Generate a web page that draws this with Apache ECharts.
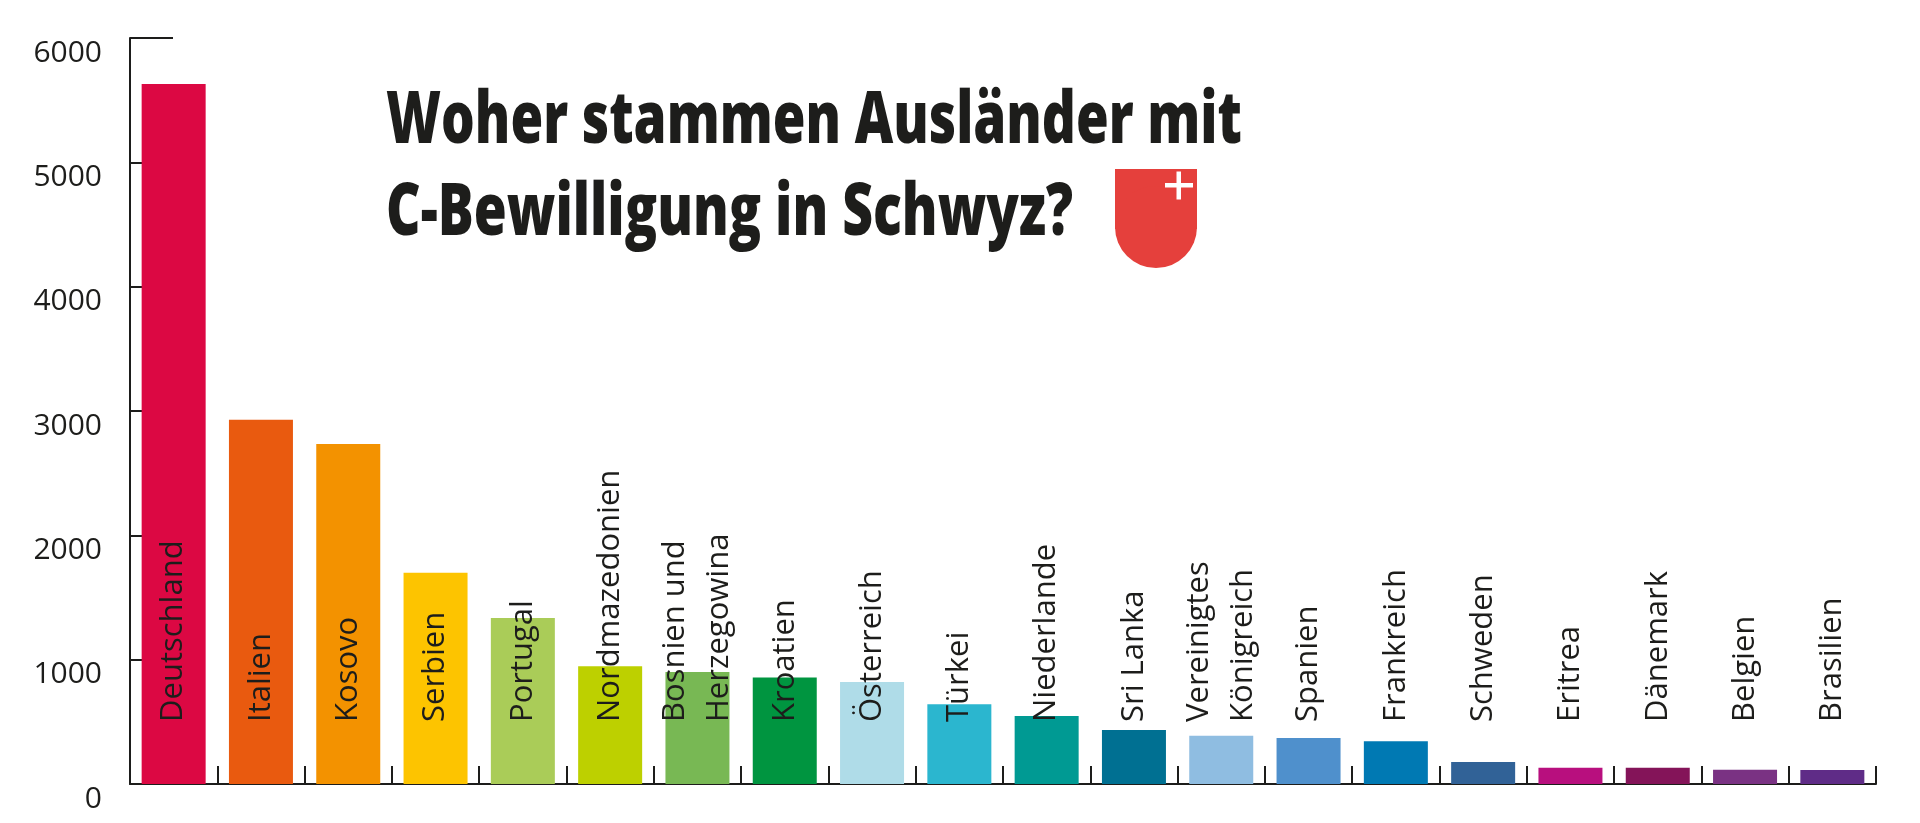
<!DOCTYPE html>
<html>
<head>
<meta charset="utf-8">
<title>Woher stammen Ausländer mit C-Bewilligung in Schwyz?</title>
<script src="https://cdn.jsdelivr.net/npm/echarts@6/dist/echarts.min.js"></script>
<style>
    html, body { margin: 0; padding: 0; background: #fff; }
    #chart { width: 1920px; height: 823px; }
</style>
</head>
<body>
<div id="chart"></div>
<script>
// Herkunftsländer, sortiert nach Anzahl
var countries = [
    'Deutschland', 'Italien', 'Kosovo', 'Serbien', 'Portugal',
    'Nordmazedonien', 'Bosnien und\nHerzegowina', 'Kroatien', 'Österreich', 'Türkei',
    'Niederlande', 'Sri Lanka', 'Vereinigtes\nKönigreich', 'Spanien', 'Frankreich',
    'Schweden', 'Eritrea', 'Dänemark', 'Belgien', 'Brasilien'
];

// Personen mit C-Bewilligung
var persons = [
    5630, 2930, 2735, 1700, 1335,
    947, 900, 857, 820, 642,
    546, 434, 389, 370, 343,
    177, 131, 131, 115, 112
];

var barColors = [
    '#dc0843', '#e95a0f', '#f39200', '#fdc400', '#aacc58',
    '#bdd000', '#78b854', '#009540', '#afdce8', '#2bb6cf',
    '#009a93', '#007092', '#8fbde1', '#4f90cc', '#0079b3',
    '#316297', '#b80f7e', '#841459', '#7a3283', '#5f2c87'
];

var yTicks = [0, 1000, 2000, 3000, 4000, 5000, 6000];

var titleLines = ['Woher stammen Ausländer mit', 'C-Bewilligung in Schwyz?'];

var INK = '#1d1d1b';
var TITLE_FONT = '800 73px "Open Sans"';

/**
 * Horizontal squeeze so the bold title looks condensed like the original.
 * @param {string} text
 * @param {number} targetWidth
 * @returns {number}
 */
function condenseFactor(text, targetWidth) {
    var ctx = document.createElement('canvas').getContext('2d');
    ctx.font = TITLE_FONT;
    var w = ctx.measureText(text).width;
    return w ? targetWidth / w : 1;
}

var chart = echarts.init(document.getElementById('chart'), null, { renderer: 'canvas' });

chart.setOption({
    animation: false,
    backgroundColor: '#fff',
    grid: { left: 130, right: 44, top: 38, bottom: 39, containLabel: false },
    xAxis: {
        type: 'category',
        data: countries,
        axisLine: { lineStyle: { color: INK, width: 2 } },
        axisTick: { show: true, inside: true, length: 18, interval: 0, lineStyle: { color: INK, width: 2 } },
        axisLabel: { show: false },
        splitLine: { show: false }
    },
    yAxis: [
        {
            type: 'value',
            min: yTicks[0],
            max: yTicks[yTicks.length - 1],
            interval: 1000,
            axisLine: { show: true, lineStyle: { color: INK, width: 2 } },
            axisTick: { show: true, inside: true, length: 12, lineStyle: { color: INK, width: 2 } },
            splitLine: { show: false },
            axisLabel: {
                color: INK,
                fontFamily: 'Open Sans',
                fontSize: 30,
                margin: 28,
                verticalAlign: 'top',
                formatter: function (v) { return String(v); }
            }
        },
        {
            // long cap line at the top of the scale
            type: 'value',
            position: 'left',
            min: 0,
            max: 6000,
            interval: 6000,
            axisLine: { show: false },
            axisTick: { show: true, inside: true, length: 43, lineStyle: { color: INK, width: 2 } },
            axisLabel: { show: false },
            splitLine: { show: false }
        }
    ],
    series: [
        {
            type: 'bar',
            data: persons.map(function (v, i) {
                return { value: v, itemStyle: { color: barColors[i] } };
            }),
            barWidth: 64,
            label: {
                show: true,
                position: 'insideBottom',
                distance: 62,
                rotate: 90,
                align: 'left',
                verticalAlign: 'middle',
                formatter: '{b}',
                color: INK,
                fontFamily: 'Open Sans',
                fontSize: 31,
                lineHeight: 44
            }
        }
    ],
    graphic: [
        {
            type: 'text',
            x: 386,
            y: 151 - 0.388 * 73,
            scaleX: condenseFactor(titleLines[0], 856),
            style: { text: titleLines[0], font: TITLE_FONT, fill: INK, textAlign: 'left', textVerticalAlign: 'middle' }
        },
        {
            type: 'text',
            x: 386,
            y: 242.5 - 0.388 * 73,
            scaleX: condenseFactor(titleLines[1], 687),
            style: { text: titleLines[1], font: TITLE_FONT, fill: INK, textAlign: 'left', textVerticalAlign: 'middle' }
        },
        {
            // Schwyzer Wappen
            type: 'group',
            children: [
                {
                    type: 'rect',
                    shape: { x: 1115, y: 169, width: 82, height: 60 },
                    style: { fill: '#e5403c' }
                },
                {
                    type: 'circle',
                    shape: { cx: 1156, cy: 227, r: 41 },
                    style: { fill: '#e5403c' }
                },
                {
                    type: 'rect',
                    shape: { x: 1165, y: 183, width: 28, height: 4.5 },
                    style: { fill: '#fff' }
                },
                {
                    type: 'rect',
                    shape: { x: 1176.5, y: 171.5, width: 4.5, height: 28 },
                    style: { fill: '#fff' }
                }
            ]
        }
    ]
});
</script>
</body>
</html>
